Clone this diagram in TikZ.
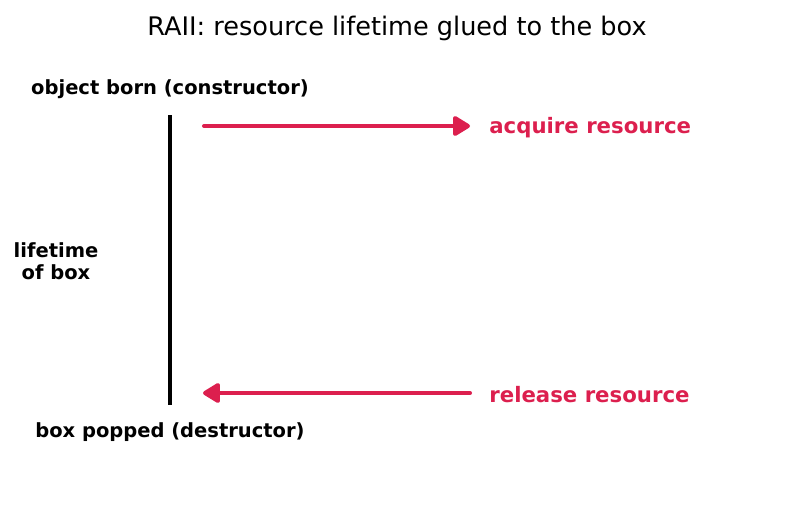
\documentclass[tikz,border=0pt]{standalone}
\usepackage{fontspec}
\setmainfont{DejaVu Sans}
\usepackage{xcolor}
\usetikzlibrary{arrows.meta, positioning}
\definecolor{carmin}{HTML}{DC1F4E}
\tikzset{
  every picture/.style={x=0.02cm, y=-0.02cm},
  titulo/.style={font=\fontsize{14.55}{17}\selectfont, inner sep=0pt},
  etiq/.style={font=\fontsize{11.1}{12.6}\selectfont\bfseries, inner sep=0pt, align=center},
  etiqr/.style={font=\fontsize{12.1}{14}\selectfont\bfseries, inner sep=0pt, text=carmin, anchor=west},
  barra/.style={line width=2.4pt, black},
  flecha/.style={-{Triangle[length=0.38cm, width=0.44cm, round]}, line width=2.3pt, carmin, line cap=round},
}
\begin{document}
\begin{tikzpicture}
  \useasboundingbox (0,0) rectangle (791,512);
  \node[titulo] (tit) at (397,28) {RAII: resource lifetime glued to the box};
  % barra de vida del objeto
  \coordinate (arr) at (170,115);
  \coordinate (aba) at (170,405);
  \draw[barra] (arr) -- (aba);
  \node[etiq] (nace) at (170,89) {object born (constructor)};
  \node[etiq] (muere) at (170,432) {box popped (destructor)};
  \node[etiq] (vida) at (56,261) {lifetime\\of box};
  % recurso
  \node[etiqr] (adq) at (489,128) {acquire resource};
  \node[etiqr] (lib) at (489,395) {release resource};
  \coordinate (a1) at (204,126);
  \coordinate (a2) at (470,126);
  \coordinate (l1) at (470,393);
  \coordinate (l2) at (203,393);
  \draw[flecha] (a1) -- (a2);
  \draw[flecha] (l1) -- (l2);
\end{tikzpicture}
\end{document}
